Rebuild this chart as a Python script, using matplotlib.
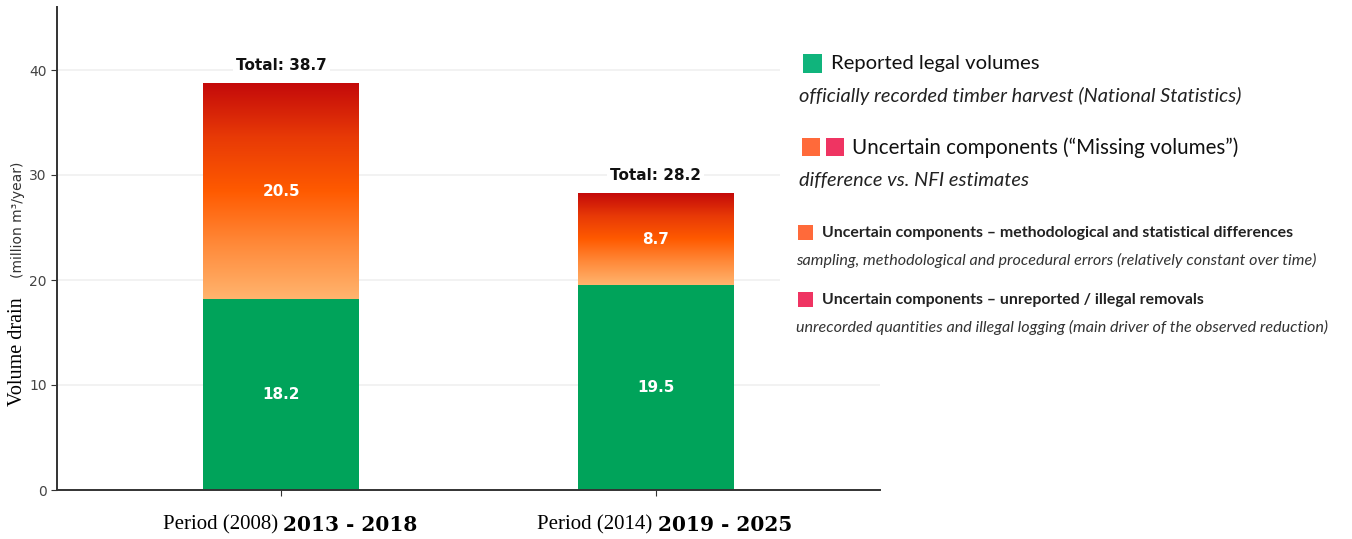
import numpy as np
import matplotlib.pyplot as plt
from matplotlib.colors import LinearSegmentedColormap
from matplotlib.patches import Rectangle

# -----------------------------
# data
# -----------------------------
periods = ["2013 - 2018", "2019 - 2025"]
period_prefix = ["Period (2008) ", "Period (2014) "]
reported = [18.2, 19.5]
uncertain = [20.5, 8.7]
totals = [38.7, 28.2]
yticks = [0, 10, 20, 30, 40]

legend_titles = ["Reported legal volumes",
                 "Uncertain components (\u201cMissing volumes\u201d)",
                 "Uncertain components \u2013 methodological and statistical differences",
                 "Uncertain components \u2013 unreported / illegal removals"]
legend_notes = ["officially recorded timber harvest (National Statistics)",
                "difference vs. NFI estimates",
                "sampling, methodological and procedural errors (relatively constant over time)",
                "unrecorded quantities and illegal logging (main driver of the observed reduction)"]

GREEN = "#00a35a"
LEG_GREEN = "#10b47c"
ORANGE = "#ff6a3a"
PINK = "#ef3462"
grad = LinearSegmentedColormap.from_list(
    "unc", ["#ffb46e", "#ff8a3a", "#ff5a00", "#e83a06", "#c40a0a"])

W, H = 1352, 539
fig = plt.figure(figsize=(W / 100, H / 100), dpi=100)
ax = fig.add_axes([57 / W, (H - 490) / H, 823 / W, 483 / H])

x = np.arange(len(periods))
bw = 0.417

ax.bar(x, reported, width=bw, color=GREEN, zorder=2)
for i in range(len(x)):
    # gradient for the uncertain part
    img = np.linspace(0, 1, 256).reshape(-1, 1)
    ax.imshow(img, cmap=grad, origin="lower", aspect="auto", zorder=2,
              extent=(x[i] - bw / 2, x[i] + bw / 2, reported[i], reported[i] + uncertain[i]))
    ax.text(x[i], reported[i] / 2, f"{reported[i]:.1f}", color="white", ha="center", va="center",
            fontsize=11, fontweight="bold", zorder=3)
    ax.text(x[i], reported[i] + uncertain[i] / 2, f"{uncertain[i]:.1f}", color="white",
            ha="center", va="center", fontsize=11, fontweight="bold", zorder=3)
    ax.text(x[i], totals[i] + 1.0, f"Total: {totals[i]:.1f}", ha="center", va="bottom",
            fontsize=11, fontweight="bold", color="#111", zorder=3,
            bbox=dict(facecolor="white", edgecolor="none", pad=2))

ax.set_xlim(-0.6, 1.6)
ax.set_ylim(0, 46)
ax.set_yticks(yticks)
ax.set_yticklabels([str(v) for v in yticks], fontsize=10, color="#444")
ax.set_xticks(x)
ax.set_xticklabels([])
ax.tick_params(axis="x", length=4, color="#333")
ax.tick_params(axis="y", length=4, color="#333")
ax.grid(axis="y", color="#f0f0f0", linewidth=1.2, zorder=0)
ax.set_axisbelow(True)
for s in ["top", "right"]:
    ax.spines[s].set_visible(False)
for s in ["left", "bottom"]:
    ax.spines[s].set_color("#333")
    ax.spines[s].set_linewidth(1.4)

# x labels: regular + bold parts
for i in range(len(x)):
    xf = ax.transData.transform((x[i], 0))[0] / W
    fig.text(xf + 2 / W, 1 - 525 / H, period_prefix[i], ha="right", va="center",
             fontsize=15, family="Liberation Serif")
    fig.text(xf + 2 / W, 1 - 525 / H, periods[i], ha="left", va="center",
             fontsize=14.5, family="DejaVu Serif", fontweight="bold")

# y label
fig.text(18 / W, 1 - 352 / H, "Volume drain", rotation=90, ha="center", va="center",
         fontsize=14.5, family="Liberation Serif")
fig.text(18 / W, 1 - 220 / H, "(million m\u00b3/year)", rotation=90, ha="center", va="center",
         fontsize=10, color="#333")

# legend block on the right
fig.patches.append(Rectangle((780 / W, 1 - 360 / H), 572 / W, 320 / H, transform=fig.transFigure,
                             facecolor="white", edgecolor="none", zorder=1))

def square(px, py, size, color):
    fig.patches.append(Rectangle((px / W, 1 - (py + size) / H), size / W, size / H,
                                 transform=fig.transFigure, facecolor=color,
                                 edgecolor="none", zorder=2))

LEG_FONT = ["Lato", "DejaVu Sans"]
square(803, 54, 19, LEG_GREEN)
fig.text(831 / W, 1 - 63 / H, legend_titles[0], fontsize=14.6, va="center", family=LEG_FONT,
         color="#111", zorder=3)
fig.text(799 / W, 1 - 96 / H, legend_notes[0], fontsize=14.4, va="center", family=LEG_FONT,
         style="italic", color="#222", zorder=3)

square(802, 138, 18, ORANGE)
square(826, 138, 18, PINK)
fig.text(852 / W, 1 - 148 / H, legend_titles[1], fontsize=14.8, va="center", family=LEG_FONT,
         color="#111", zorder=3)
fig.text(799 / W, 1 - 181 / H, legend_notes[1], fontsize=14.4, va="center", family=LEG_FONT,
         style="italic", color="#222", zorder=3)

square(798, 225, 15, ORANGE)
fig.text(822 / W, 1 - 233 / H, legend_titles[2], fontsize=11.4, va="center", family=LEG_FONT,
         fontweight="bold", color="#222", zorder=3)
fig.text(796 / W, 1 - 260 / H, legend_notes[2], fontsize=11.6, va="center", family=LEG_FONT,
         style="italic", color="#333", zorder=3)

square(798, 292, 15, PINK)
fig.text(822 / W, 1 - 300 / H, legend_titles[3], fontsize=11.4, va="center", family=LEG_FONT,
         fontweight="bold", color="#222", zorder=3)
fig.text(796 / W, 1 - 327 / H, legend_notes[3], fontsize=11.6, va="center", family=LEG_FONT,
         style="italic", color="#333", zorder=3)

fig.savefig("out.png", dpi=100, facecolor="white")
